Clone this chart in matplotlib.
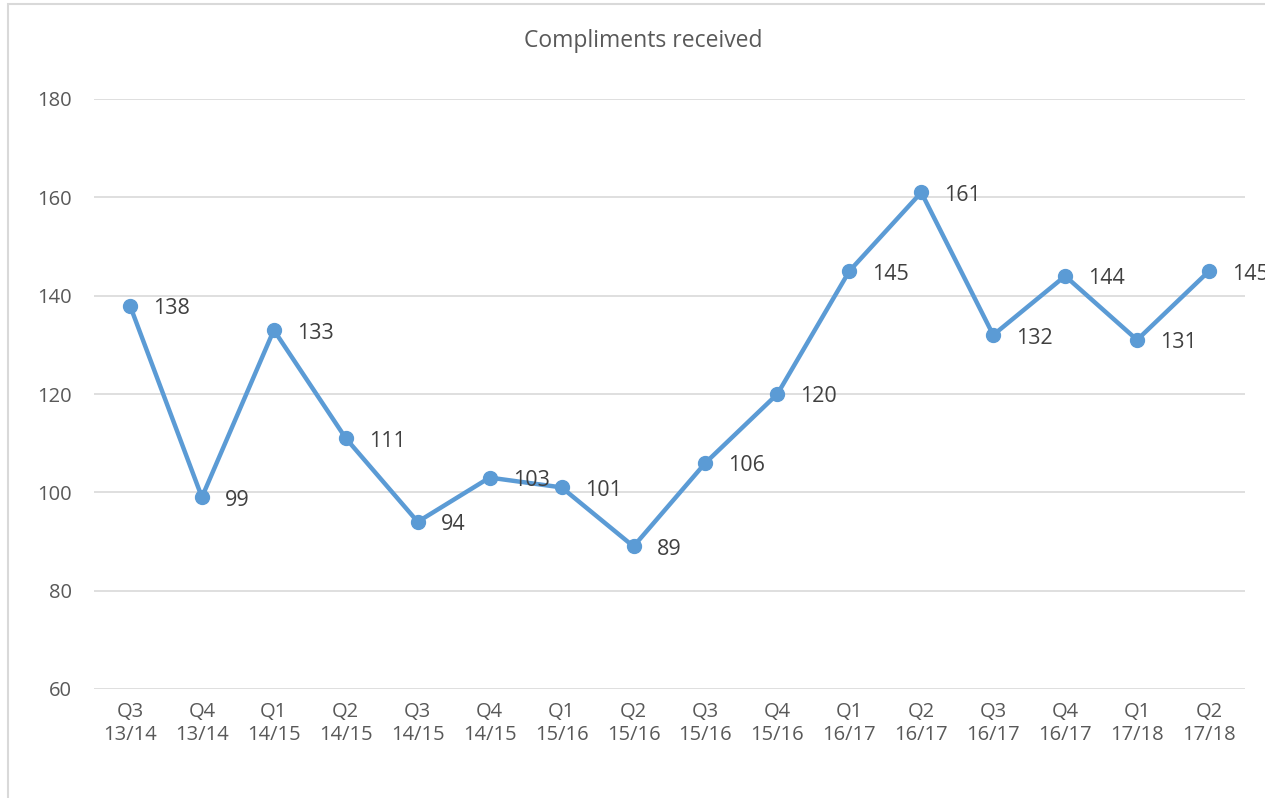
import matplotlib
matplotlib.use("Agg")
import matplotlib.pyplot as plt
from matplotlib.patches import Rectangle

quarters = ["Q3", "Q4", "Q1", "Q2", "Q3", "Q4", "Q1", "Q2", "Q3", "Q4", "Q1", "Q2", "Q3", "Q4", "Q1", "Q2"]
years = ["13/14", "13/14", "14/15", "14/15", "14/15", "14/15", "15/16", "15/16",
         "15/16", "15/16", "16/17", "16/17", "16/17", "16/17", "17/18", "17/18"]
compliments = [138, 99, 133, 111, 94, 103, 101, 89, 106, 120, 145, 161, 132, 144, 131, 145]
yticks = [60, 80, 100, 120, 140, 160, 180]

plt.rcParams['font.family'] = ['Open Sans', 'DejaVu Sans']
text_color = "#595959"
line_color = "#5B9BD5"
grid_color = "#D9D9D9"

fig = plt.figure(figsize=(12.65, 7.98), dpi=100)
ax = fig.add_axes([94/1265, 1 - 689/798, (1245 - 94)/1265, (689 - 99)/798])

x = list(range(len(compliments)))
ax.plot(x, compliments, color=line_color, lw=3.2, marker="o", markersize=10,
        markerfacecolor=line_color, markeredgecolor=line_color, zorder=3, clip_on=False)

for xi, v in zip(x, compliments):
    ax.annotate(str(v), (xi, v), xytext=(23, -3), textcoords="offset pixels",
                ha="left", va="center", fontsize=15.5, color="#404040", annotation_clip=False)

ax.set_xlim(-0.5, len(compliments) - 0.5)
ax.set_ylim(60, 180)
ax.set_yticks(yticks)
ax.set_yticklabels([str(t) for t in yticks])
ax.set_xticks(x)
ax.set_xticklabels([f"{q}\n{y}" for q, y in zip(quarters, years)], linespacing=1.2)
ax.tick_params(axis="both", length=0, colors=text_color, labelsize=14.5)
ax.tick_params(axis="y", pad=16)
ax.tick_params(axis="x", pad=9)
ax.grid(axis="y", color=grid_color, lw=1.2)
ax.set_axisbelow(True)
for s in ax.spines.values():
    s.set_visible(False)

fig.text(643/1265, 1 - 41/798, "Compliments received", ha="center", va="center",
         fontsize=16.5, color=text_color)

fig.patches.append(Rectangle((8/1265, -0.05), 1.2, 1 - 4/798 + 0.05, transform=fig.transFigure,
                             fill=False, edgecolor=grid_color, lw=1.5))

fig.savefig("out.png", dpi=100)
